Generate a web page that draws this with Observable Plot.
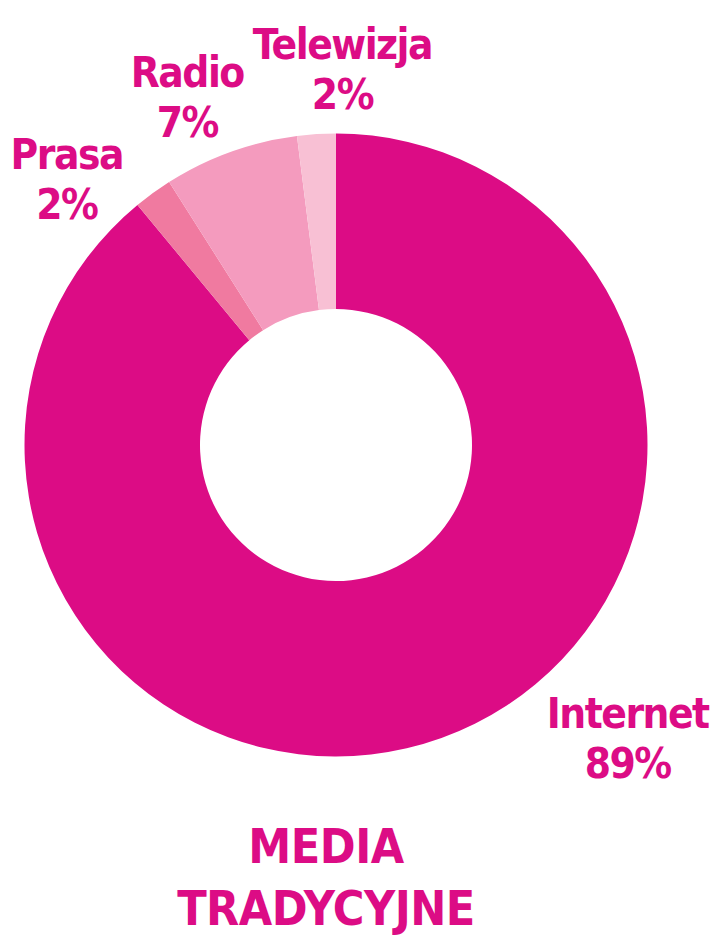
<!DOCTYPE html>
<html>
<head>
<meta charset="utf-8">
<script src="https://cdn.jsdelivr.net/npm/d3@7"></script>
<script src="https://cdn.jsdelivr.net/npm/@observablehq/plot@0.6"></script>
<style>
  html, body { margin: 0; padding: 0; background: #fff; }
  #chart svg { display: block; }
  #chart text { letter-spacing: -1.5px; }
  #title {
    width: 652px;
    text-align: center;
    font-family: "DejaVu Sans Condensed", "DejaVu Sans", sans-serif;
    font-stretch: condensed;
    font-weight: bold;
    font-size: 48px;
    line-height: 62px;
    color: #DC0C85;
    letter-spacing: -0.5px;
  }
</style>
</head>
<body>
<div id="chart"></div>
<div id="title">MEDIA<br>TRADYCYJNE</div>
<script>
// ---- data ----
const categories = ["Internet", "Prasa", "Radio", "Telewizja"];
const shares = [89, 2, 7, 2];
const colors = ["#DC0C85", "#F07AA0", "#F49BBE", "#F8C0D4"];

// ---- layout (label placement, polar: degrees clockwise from 12 o'clock, px radius) ----
const labelAngle = {Internet: 135.0, Prasa: -45.2, Radio: -23.1, Telewizja: 0.9};
const labelRadius = {Internet: 411.8, Prasa: 380.2, Radio: 380.4, Telewizja: 377.7};
const outerR = 311.5, innerR = 136;
const W = 716, H = 815, cx = 336, cy = 445;

const data = categories.map((c, i) => ({category: c, share: shares[i]}));
const color = Plot.scale({color: {type: "ordinal", domain: categories, range: colors}});

const labels = data.map(d => {
  const a = labelAngle[d.category] * Math.PI / 180;
  const r = labelRadius[d.category];
  return {...d, lx: r * Math.sin(a), ly: -r * Math.cos(a), text: `${d.category}\n${d.share}%`};
});

const donut = (index, scales, values, dimensions) => {
  const pie = d3.pie().sort(null).value(d => d.share).startAngle(0).endAngle(2 * Math.PI);
  const arc = d3.arc().innerRadius(innerR).outerRadius(outerR);
  const g = d3.create("svg:g")
    .attr("transform", `translate(${scales.x(0)},${scales.y(0)})`);
  g.selectAll("path")
    .data(pie(data))
    .join("path")
    .attr("d", arc)
    .attr("fill", d => color.apply(d.data.category));
  return g.node();
};

const chart = Plot.plot({
  width: W,
  height: H,
  margin: 0,
  x: {domain: [-cx, W - cx], range: [0, W], axis: null},
  y: {domain: [-cy, H - cy], range: [0, H], axis: null},
  style: {fontFamily: "'DejaVu Sans Condensed', 'DejaVu Sans', sans-serif", background: "#fff"},
  marks: [
    donut,
    Plot.text(labels, {
      x: "lx", y: "ly", text: "text",
      fill: "#DC0C85",
      fontSize: 42,
      fontWeight: "bold",
      lineHeight: 1.19,
      lineAnchor: "middle",
      textAnchor: "middle"
    })
  ]
});
document.getElementById("chart").appendChild(chart);
</script>
</body>
</html>
